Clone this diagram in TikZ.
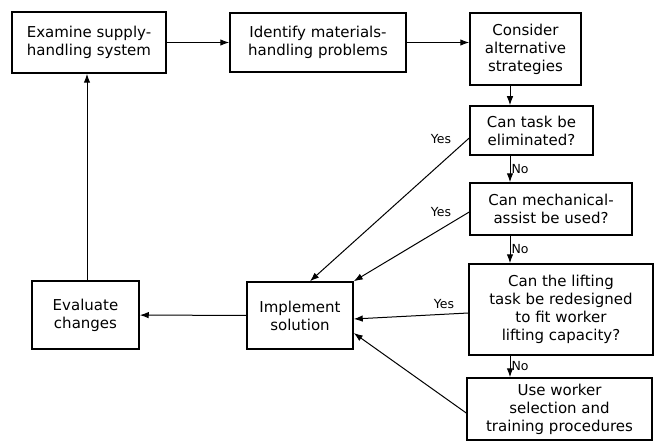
\documentclass[tikz,border=0pt]{standalone}
\usepackage{fontspec}
\setmainfont{DejaVu Sans}
\usetikzlibrary{positioning}
\usetikzlibrary{arrows.meta}
\tikzset{stepbox/.style={draw, line width=1.5pt, align=center, inner sep=2pt,
font=\fontsize{15}{18}\selectfont},
flow/.style={-{Latex[length=9pt,width=6.5pt]}, line width=1pt},
answer/.style={font=\fontsize{12.5}{14}\selectfont, inner sep=1pt}}

\begin{document}
\begin{tikzpicture}[x=1pt, y=-1pt]
				\useasboundingbox (0,0) rectangle (657,444);
				\coordinate (col) at (510,0);
				\coordinate (back) at (87,0);
				% top row
				\node[stepbox, minimum width=154pt, minimum height=61pt] (examine) at (89,42.5) {Examine supply-\\handling system};
				\node[stepbox, minimum width=176pt, minimum height=59pt] (identify) at (318,42.5) {Identify materials-\\handling problems};
				\node[stepbox, minimum width=111pt, minimum height=72pt] (consider) at (525.5,49) {Consider\\alternative\\strategies};
				% questions
				\node[stepbox, minimum width=123pt, minimum height=49pt] (elim) at (531.5,130.5) {Can task be\\eliminated?};
				\node[stepbox, minimum width=162pt, minimum height=52pt] (mech) at (551,209) {Can mechanical-\\assist be used?};
				\node[stepbox, minimum width=184pt, minimum height=91pt] (lift) at (561,309.5) {Can the lifting\\task be redesigned\\to fit worker\\lifting capacity?};
				\node[stepbox, minimum width=185pt, minimum height=62pt] (select) at (559.5,409) {Use worker\\selection and\\training procedures};
				% bottom row
				\node[stepbox, minimum width=106pt, minimum height=67pt] (implement) at (300,315.5) {Implement\\solution};
				\node[stepbox, minimum width=107pt, minimum height=68pt] (evaluate) at (85.5,315) {Evaluate\\changes};

				\draw[flow] (examine) -- (identify);
				\draw[flow] (identify.east) -- (identify.east -| consider.west);
				\draw[flow] (consider.south -| col) -- (elim.north -| col);
				\draw[flow] (elim.south -| col) -- node[answer, right] (no1) {No} (mech.north -| col);
				\draw[flow] (mech.south -| col) -- node[answer, right] (no2) {No} (lift.north -| col);
				\draw[flow] (lift.south -| col) -- node[answer, right] (no3) {No} (select.north -| col);

				\draw[flow] ([yshift=-7.5pt]elim.west) -- ([xshift=10pt]implement.north);
				\draw[flow] ([yshift=-3pt]mech.west) -- (implement.north east);
				\draw[flow] ([yshift=-3.5pt]lift.west) -- ([yshift=-3.5pt]implement.east);
				\draw[flow] ([yshift=-4pt]select.west) -- ([yshift=-17.5pt]implement.east);
				\node[answer] (yes1) at (441,139) {Yes};
				\node[answer] (yes2) at (441,212) {Yes};
				\node[answer] (yes3) at (444,304) {Yes};

				\draw[flow] (implement) -- (evaluate);
				\draw[flow] (evaluate.north -| back) -- (examine.south -| back);
			\end{tikzpicture}
\end{document}
